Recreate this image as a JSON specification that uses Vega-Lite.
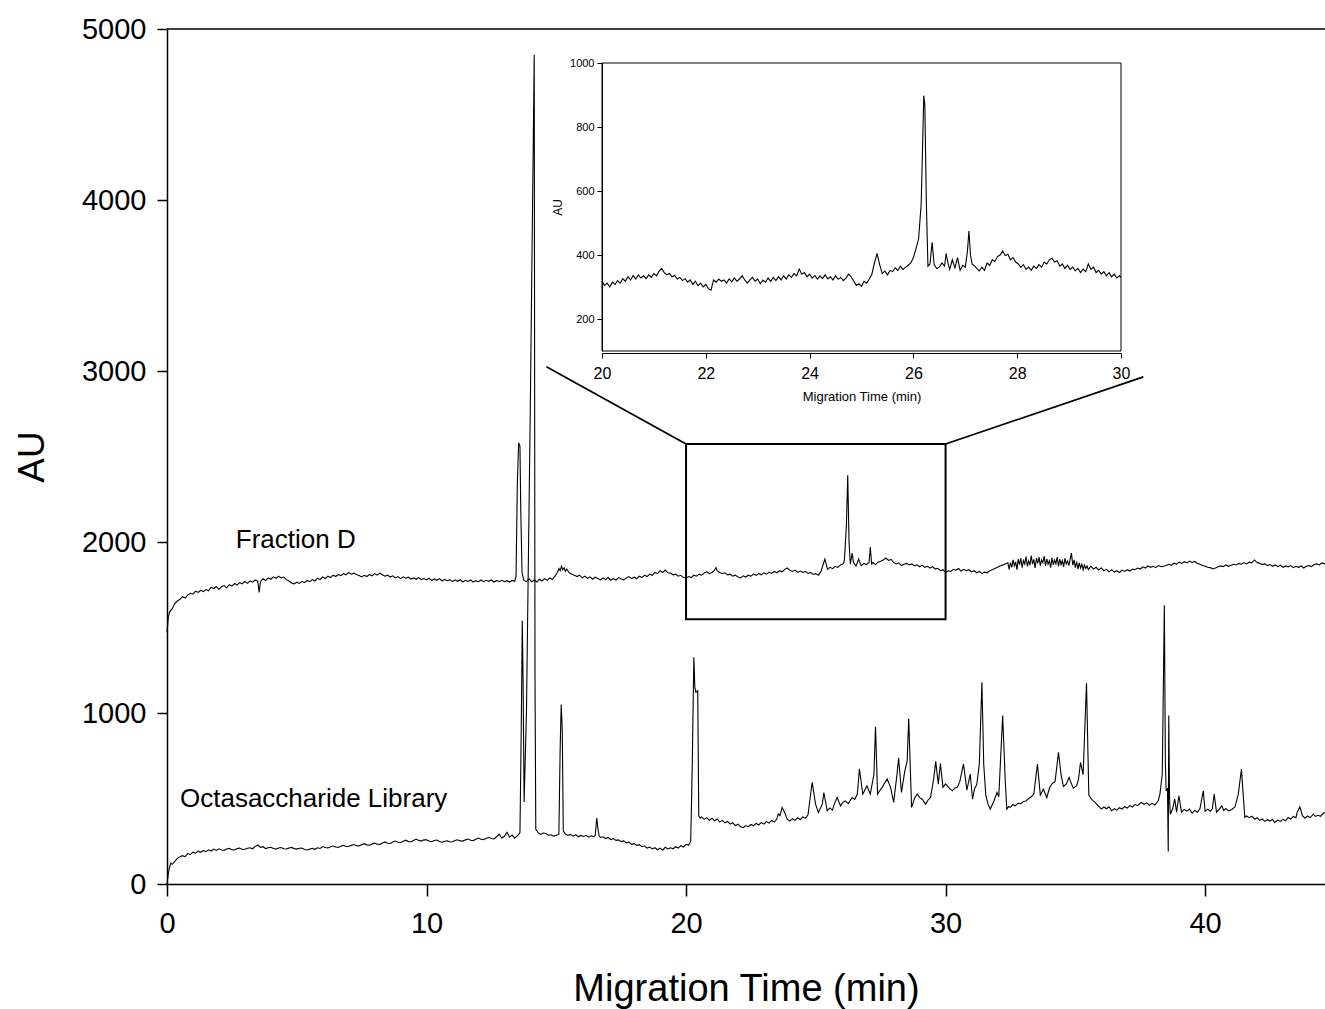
{
"$schema": "https://vega.github.io/schema/vega-lite/v6.json",
"width": 1158,
"height": 855,
"autosize": {"type": "none"},
"padding": {"left": 167, "top": 29, "right": 0, "bottom": 125},
"background": "white",
"config": {
  "view": {"stroke": null},
  "font": "Liberation Sans",
  "axis": {"grid": false, "domainColor": "black", "tickColor": "black", "labelColor": "black", "titleColor": "black", "labelFont": "Liberation Sans", "titleFont": "Liberation Sans", "titleFontWeight": "normal", "labelFlush": false, "labelOverlap": false}
},
"datasets": {
"fracD": [
{"t":0,"v":1470},{"t":0.05,"v":1560},{"t":0.1,"v":1590},{"t":0.2,"v":1610},{"t":0.3,"v":1640},{"t":0.4,"v":1655},{"t":0.5,"v":1665},{"t":0.6,"v":1680},{"t":0.7,"v":1672},{"t":0.8,"v":1690},{"t":0.9,"v":1700},{"t":1.0,"v":1695},{"t":1.1,"v":1712},{"t":1.2,"v":1705},{"t":1.3,"v":1718},{"t":1.4,"v":1710},{"t":1.5,"v":1722},{"t":1.6,"v":1715},{"t":1.7,"v":1735},{"t":1.8,"v":1728},{"t":1.9,"v":1740},{"t":2.0,"v":1722},{"t":2.1,"v":1738},{"t":2.2,"v":1745},{"t":2.3,"v":1732},{"t":2.4,"v":1750},{"t":2.5,"v":1742},{"t":2.6,"v":1758},{"t":2.7,"v":1748},{"t":2.8,"v":1762},{"t":2.9,"v":1755},{"t":3.0,"v":1770},{"t":3.1,"v":1758},{"t":3.2,"v":1772},{"t":3.3,"v":1765},{"t":3.4,"v":1778},{"t":3.5,"v":1770},{"t":3.55,"v":1705},{"t":3.6,"v":1768},{"t":3.7,"v":1785},{"t":3.8,"v":1775},{"t":3.9,"v":1790},{"t":4.0,"v":1782},{"t":4.1,"v":1796},{"t":4.2,"v":1788},{"t":4.3,"v":1800},{"t":4.4,"v":1790},{"t":4.5,"v":1795},{"t":4.6,"v":1780},{"t":4.7,"v":1772},{"t":4.8,"v":1760},{"t":4.9,"v":1755},{"t":5.0,"v":1765},{"t":5.1,"v":1758},{"t":5.2,"v":1770},{"t":5.3,"v":1762},{"t":5.4,"v":1775},{"t":5.5,"v":1768},{"t":5.6,"v":1780},{"t":5.7,"v":1772},{"t":5.8,"v":1788},{"t":5.9,"v":1780},{"t":6.0,"v":1795},{"t":6.1,"v":1786},{"t":6.2,"v":1800},{"t":6.3,"v":1792},{"t":6.4,"v":1806},{"t":6.5,"v":1798},{"t":6.6,"v":1810},{"t":6.7,"v":1803},{"t":6.8,"v":1815},{"t":6.9,"v":1808},{"t":7.0,"v":1822},{"t":7.1,"v":1812},{"t":7.2,"v":1818},{"t":7.3,"v":1810},{"t":7.4,"v":1804},{"t":7.5,"v":1796},{"t":7.6,"v":1805},{"t":7.7,"v":1798},{"t":7.8,"v":1810},{"t":7.9,"v":1802},{"t":8.0,"v":1815},{"t":8.1,"v":1806},{"t":8.2,"v":1818},{"t":8.3,"v":1808},{"t":8.4,"v":1800},{"t":8.5,"v":1806},{"t":8.6,"v":1795},{"t":8.7,"v":1802},{"t":8.8,"v":1790},{"t":8.9,"v":1798},{"t":9.0,"v":1786},{"t":9.1,"v":1796},{"t":9.2,"v":1788},{"t":9.3,"v":1794},{"t":9.4,"v":1783},{"t":9.5,"v":1790},{"t":9.6,"v":1782},{"t":9.7,"v":1792},{"t":9.8,"v":1780},{"t":9.9,"v":1786},{"t":10.0,"v":1778},{"t":10.1,"v":1788},{"t":10.2,"v":1775},{"t":10.3,"v":1784},{"t":10.4,"v":1776},{"t":10.5,"v":1786},{"t":10.6,"v":1772},{"t":10.7,"v":1782},{"t":10.8,"v":1774},{"t":10.9,"v":1780},{"t":11.0,"v":1768},{"t":11.1,"v":1778},{"t":11.2,"v":1770},{"t":11.3,"v":1779},{"t":11.4,"v":1766},{"t":11.5,"v":1776},{"t":11.6,"v":1769},{"t":11.7,"v":1778},{"t":11.8,"v":1765},{"t":11.9,"v":1774},{"t":12.0,"v":1768},{"t":12.1,"v":1778},{"t":12.2,"v":1768},{"t":12.3,"v":1776},{"t":12.4,"v":1770},{"t":12.5,"v":1778},{"t":12.6,"v":1766},{"t":12.7,"v":1775},{"t":12.8,"v":1768},{"t":12.9,"v":1776},{"t":13.0,"v":1768},{"t":13.1,"v":1774},{"t":13.2,"v":1766},{"t":13.3,"v":1775},{"t":13.4,"v":1770},{"t":13.45,"v":1800},{"t":13.5,"v":2350},{"t":13.55,"v":2580},{"t":13.6,"v":2560},{"t":13.63,"v":2200},{"t":13.68,"v":1820},{"t":13.75,"v":1775},{"t":13.85,"v":1768},{"t":13.95,"v":1785},{"t":14.05,"v":1768},{"t":14.15,"v":1778},{"t":14.25,"v":1766},{"t":14.35,"v":1782},{"t":14.45,"v":1772},{"t":14.55,"v":1786},{"t":14.65,"v":1776},{"t":14.75,"v":1790},{"t":14.85,"v":1782},{"t":14.95,"v":1800},{"t":15.05,"v":1825},{"t":15.1,"v":1845},{"t":15.15,"v":1832},{"t":15.2,"v":1858},{"t":15.25,"v":1838},{"t":15.3,"v":1850},{"t":15.35,"v":1828},{"t":15.4,"v":1842},{"t":15.5,"v":1820},{"t":15.6,"v":1812},{"t":15.7,"v":1805},{"t":15.8,"v":1798},{"t":15.9,"v":1806},{"t":16.0,"v":1790},{"t":16.1,"v":1800},{"t":16.2,"v":1788},{"t":16.3,"v":1796},{"t":16.4,"v":1782},{"t":16.5,"v":1794},{"t":16.6,"v":1786},{"t":16.7,"v":1778},{"t":16.8,"v":1790},{"t":16.9,"v":1780},{"t":17.0,"v":1792},{"t":17.1,"v":1776},{"t":17.2,"v":1786},{"t":17.3,"v":1778},{"t":17.4,"v":1792},{"t":17.5,"v":1784},{"t":17.6,"v":1778},{"t":17.7,"v":1790},{"t":17.8,"v":1798},{"t":17.9,"v":1786},{"t":18.0,"v":1794},{"t":18.1,"v":1785},{"t":18.2,"v":1800},{"t":18.3,"v":1792},{"t":18.4,"v":1806},{"t":18.5,"v":1798},{"t":18.6,"v":1812},{"t":18.7,"v":1805},{"t":18.8,"v":1822},{"t":18.9,"v":1815},{"t":19.0,"v":1832},{"t":19.1,"v":1822},{"t":19.2,"v":1836},{"t":19.3,"v":1820},{"t":19.4,"v":1818},{"t":19.5,"v":1808},{"t":19.6,"v":1812},{"t":19.7,"v":1800},{"t":19.8,"v":1805},{"t":19.9,"v":1792},{"t":20.0,"v":1790},{"t":20.1,"v":1798},{"t":20.2,"v":1792},{"t":20.3,"v":1806},{"t":20.4,"v":1800},{"t":20.5,"v":1812},{"t":20.6,"v":1806},{"t":20.7,"v":1818},{"t":20.8,"v":1826},{"t":20.9,"v":1815},{"t":21.0,"v":1822},{"t":21.1,"v":1835},{"t":21.15,"v":1850},{"t":21.2,"v":1832},{"t":21.3,"v":1822},{"t":21.4,"v":1815},{"t":21.5,"v":1820},{"t":21.6,"v":1808},{"t":21.7,"v":1812},{"t":21.8,"v":1800},{"t":21.9,"v":1806},{"t":22.0,"v":1795},{"t":22.1,"v":1790},{"t":22.2,"v":1802},{"t":22.3,"v":1795},{"t":22.4,"v":1806},{"t":22.5,"v":1800},{"t":22.6,"v":1812},{"t":22.7,"v":1805},{"t":22.8,"v":1816},{"t":22.9,"v":1808},{"t":23.0,"v":1820},{"t":23.1,"v":1812},{"t":23.2,"v":1824},{"t":23.3,"v":1816},{"t":23.4,"v":1828},{"t":23.5,"v":1820},{"t":23.6,"v":1832},{"t":23.7,"v":1826},{"t":23.8,"v":1840},{"t":23.9,"v":1848},{"t":24.0,"v":1834},{"t":24.1,"v":1828},{"t":24.2,"v":1836},{"t":24.3,"v":1822},{"t":24.4,"v":1830},{"t":24.5,"v":1822},{"t":24.6,"v":1828},{"t":24.7,"v":1816},{"t":24.8,"v":1822},{"t":24.9,"v":1810},{"t":25.0,"v":1815},{"t":25.1,"v":1806},{"t":25.2,"v":1828},{"t":25.35,"v":1900},{"t":25.45,"v":1840},{"t":25.55,"v":1852},{"t":25.65,"v":1844},{"t":25.75,"v":1858},{"t":25.85,"v":1852},{"t":25.95,"v":1866},{"t":26.05,"v":1872},{"t":26.1,"v":1890},{"t":26.18,"v":2100},{"t":26.23,"v":2390},{"t":26.28,"v":2000},{"t":26.33,"v":1870},{"t":26.4,"v":1935},{"t":26.45,"v":1880},{"t":26.55,"v":1860},{"t":26.65,"v":1900},{"t":26.75,"v":1862},{"t":26.85,"v":1875},{"t":26.95,"v":1868},{"t":27.05,"v":1880},{"t":27.1,"v":1970},{"t":27.15,"v":1872},{"t":27.2,"v":1880},{"t":27.3,"v":1868},{"t":27.4,"v":1882},{"t":27.5,"v":1888},{"t":27.6,"v":1895},{"t":27.7,"v":1906},{"t":27.8,"v":1892},{"t":27.9,"v":1898},{"t":28.0,"v":1880},{"t":28.1,"v":1872},{"t":28.2,"v":1878},{"t":28.3,"v":1862},{"t":28.4,"v":1870},{"t":28.5,"v":1875},{"t":28.6,"v":1866},{"t":28.7,"v":1872},{"t":28.8,"v":1860},{"t":28.9,"v":1866},{"t":29.0,"v":1855},{"t":29.1,"v":1865},{"t":29.2,"v":1852},{"t":29.3,"v":1858},{"t":29.4,"v":1848},{"t":29.5,"v":1856},{"t":29.6,"v":1842},{"t":29.7,"v":1846},{"t":29.8,"v":1832},{"t":29.9,"v":1838},{"t":30.0,"v":1822},{"t":30.1,"v":1832},{"t":30.2,"v":1828},{"t":30.3,"v":1840},{"t":30.4,"v":1835},{"t":30.5,"v":1845},{"t":30.6,"v":1830},{"t":30.7,"v":1840},{"t":30.8,"v":1832},{"t":30.9,"v":1838},{"t":31.0,"v":1826},{"t":31.1,"v":1832},{"t":31.2,"v":1820},{"t":31.3,"v":1828},{"t":31.4,"v":1815},{"t":31.5,"v":1824},{"t":31.6,"v":1820},{"t":31.7,"v":1832},{"t":31.8,"v":1838},{"t":31.9,"v":1845},{"t":32.0,"v":1852},{"t":32.1,"v":1860},{"t":32.2,"v":1866},{"t":32.3,"v":1872},{"t":32.4,"v":1878},{"t":32.45,"v":1840},{"t":32.5,"v":1880},{"t":32.55,"v":1852},{"t":32.6,"v":1895},{"t":32.65,"v":1860},{"t":32.7,"v":1884},{"t":32.75,"v":1838},{"t":32.8,"v":1900},{"t":32.85,"v":1868},{"t":32.9,"v":1905},{"t":32.95,"v":1850},{"t":33.0,"v":1892},{"t":33.05,"v":1872},{"t":33.1,"v":1915},{"t":33.15,"v":1858},{"t":33.2,"v":1890},{"t":33.25,"v":1865},{"t":33.3,"v":1920},{"t":33.35,"v":1870},{"t":33.4,"v":1898},{"t":33.45,"v":1848},{"t":33.5,"v":1905},{"t":33.55,"v":1875},{"t":33.6,"v":1912},{"t":33.65,"v":1862},{"t":33.7,"v":1895},{"t":33.75,"v":1880},{"t":33.8,"v":1918},{"t":33.85,"v":1860},{"t":33.9,"v":1902},{"t":33.95,"v":1870},{"t":34.0,"v":1890},{"t":34.05,"v":1850},{"t":34.1,"v":1908},{"t":34.15,"v":1866},{"t":34.2,"v":1895},{"t":34.25,"v":1872},{"t":34.3,"v":1912},{"t":34.35,"v":1858},{"t":34.4,"v":1900},{"t":34.45,"v":1868},{"t":34.5,"v":1892},{"t":34.55,"v":1855},{"t":34.6,"v":1905},{"t":34.65,"v":1872},{"t":34.7,"v":1890},{"t":34.75,"v":1862},{"t":34.8,"v":1898},{"t":34.85,"v":1935},{"t":34.9,"v":1865},{"t":34.95,"v":1895},{"t":35.0,"v":1850},{"t":35.05,"v":1885},{"t":35.1,"v":1842},{"t":35.15,"v":1878},{"t":35.2,"v":1848},{"t":35.25,"v":1870},{"t":35.3,"v":1838},{"t":35.35,"v":1865},{"t":35.4,"v":1845},{"t":35.45,"v":1860},{"t":35.5,"v":1838},{"t":35.6,"v":1858},{"t":35.7,"v":1842},{"t":35.8,"v":1852},{"t":35.9,"v":1836},{"t":36.0,"v":1848},{"t":36.1,"v":1832},{"t":36.2,"v":1840},{"t":36.3,"v":1826},{"t":36.4,"v":1838},{"t":36.5,"v":1824},{"t":36.6,"v":1832},{"t":36.7,"v":1822},{"t":36.8,"v":1836},{"t":36.9,"v":1828},{"t":37.0,"v":1838},{"t":37.1,"v":1830},{"t":37.2,"v":1842},{"t":37.3,"v":1838},{"t":37.4,"v":1848},{"t":37.5,"v":1842},{"t":37.6,"v":1855},{"t":37.7,"v":1848},{"t":37.8,"v":1860},{"t":37.9,"v":1852},{"t":38.0,"v":1858},{"t":38.1,"v":1850},{"t":38.2,"v":1862},{"t":38.3,"v":1855},{"t":38.4,"v":1858},{"t":38.5,"v":1862},{"t":38.6,"v":1870},{"t":38.7,"v":1865},{"t":38.8,"v":1876},{"t":38.9,"v":1870},{"t":39.0,"v":1882},{"t":39.1,"v":1875},{"t":39.2,"v":1885},{"t":39.3,"v":1878},{"t":39.4,"v":1888},{"t":39.5,"v":1880},{"t":39.6,"v":1886},{"t":39.7,"v":1874},{"t":39.8,"v":1870},{"t":39.9,"v":1862},{"t":40.0,"v":1858},{"t":40.1,"v":1852},{"t":40.2,"v":1850},{"t":40.3,"v":1842},{"t":40.4,"v":1848},{"t":40.5,"v":1855},{"t":40.6,"v":1860},{"t":40.7,"v":1856},{"t":40.8,"v":1866},{"t":40.9,"v":1858},{"t":41.0,"v":1864},{"t":41.1,"v":1870},{"t":41.2,"v":1866},{"t":41.3,"v":1875},{"t":41.4,"v":1870},{"t":41.5,"v":1880},{"t":41.6,"v":1872},{"t":41.7,"v":1882},{"t":41.8,"v":1878},{"t":41.9,"v":1895},{"t":42.0,"v":1880},{"t":42.1,"v":1875},{"t":42.2,"v":1868},{"t":42.3,"v":1872},{"t":42.4,"v":1862},{"t":42.5,"v":1868},{"t":42.6,"v":1858},{"t":42.7,"v":1866},{"t":42.8,"v":1856},{"t":42.9,"v":1864},{"t":43.0,"v":1852},{"t":43.1,"v":1860},{"t":43.2,"v":1855},{"t":43.3,"v":1862},{"t":43.4,"v":1850},{"t":43.5,"v":1858},{"t":43.6,"v":1852},{"t":43.7,"v":1860},{"t":43.8,"v":1848},{"t":43.9,"v":1858},{"t":44.0,"v":1862},{"t":44.1,"v":1856},{"t":44.2,"v":1868},{"t":44.3,"v":1872},{"t":44.4,"v":1866},{"t":44.5,"v":1878},{"t":44.62,"v":1872}
],
"octa": [
{"t":0,"v":0},{"t":0.05,"v":60},{"t":0.1,"v":100},{"t":0.15,"v":122},{"t":0.2,"v":115},{"t":0.3,"v":132},{"t":0.4,"v":150},{"t":0.5,"v":160},{"t":0.6,"v":166},{"t":0.7,"v":160},{"t":0.8,"v":178},{"t":0.9,"v":172},{"t":1.0,"v":186},{"t":1.1,"v":180},{"t":1.2,"v":192},{"t":1.3,"v":185},{"t":1.4,"v":196},{"t":1.5,"v":189},{"t":1.6,"v":200},{"t":1.7,"v":193},{"t":1.8,"v":204},{"t":1.9,"v":196},{"t":2.0,"v":206},{"t":2.1,"v":199},{"t":2.2,"v":197},{"t":2.3,"v":205},{"t":2.4,"v":208},{"t":2.5,"v":201},{"t":2.6,"v":199},{"t":2.7,"v":207},{"t":2.8,"v":210},{"t":2.9,"v":202},{"t":3.0,"v":203},{"t":3.1,"v":209},{"t":3.2,"v":212},{"t":3.3,"v":206},{"t":3.4,"v":220},{"t":3.5,"v":228},{"t":3.6,"v":214},{"t":3.7,"v":218},{"t":3.8,"v":207},{"t":3.9,"v":212},{"t":4.0,"v":215},{"t":4.1,"v":208},{"t":4.2,"v":204},{"t":4.3,"v":211},{"t":4.4,"v":213},{"t":4.5,"v":206},{"t":4.6,"v":205},{"t":4.7,"v":210},{"t":4.8,"v":214},{"t":4.9,"v":207},{"t":5.0,"v":204},{"t":5.1,"v":209},{"t":5.2,"v":210},{"t":5.3,"v":202},{"t":5.4,"v":199},{"t":5.5,"v":205},{"t":5.6,"v":208},{"t":5.7,"v":203},{"t":5.8,"v":212},{"t":5.9,"v":208},{"t":6.0,"v":219},{"t":6.1,"v":213},{"t":6.2,"v":211},{"t":6.3,"v":218},{"t":6.4,"v":222},{"t":6.5,"v":216},{"t":6.6,"v":214},{"t":6.7,"v":221},{"t":6.8,"v":226},{"t":6.9,"v":219},{"t":7.0,"v":219},{"t":7.1,"v":226},{"t":7.2,"v":231},{"t":7.3,"v":224},{"t":7.4,"v":223},{"t":7.5,"v":230},{"t":7.6,"v":236},{"t":7.7,"v":229},{"t":7.8,"v":227},{"t":7.9,"v":234},{"t":8.0,"v":239},{"t":8.1,"v":233},{"t":8.2,"v":231},{"t":8.3,"v":240},{"t":8.4,"v":246},{"t":8.5,"v":238},{"t":8.6,"v":237},{"t":8.7,"v":245},{"t":8.8,"v":251},{"t":8.9,"v":244},{"t":9.0,"v":241},{"t":9.1,"v":250},{"t":9.2,"v":256},{"t":9.3,"v":248},{"t":9.4,"v":247},{"t":9.5,"v":255},{"t":9.6,"v":263},{"t":9.7,"v":255},{"t":9.8,"v":251},{"t":9.9,"v":259},{"t":10.0,"v":258},{"t":10.1,"v":252},{"t":10.2,"v":247},{"t":10.3,"v":254},{"t":10.4,"v":257},{"t":10.5,"v":249},{"t":10.6,"v":244},{"t":10.7,"v":250},{"t":10.8,"v":253},{"t":10.9,"v":246},{"t":11.0,"v":247},{"t":11.1,"v":255},{"t":11.2,"v":259},{"t":11.3,"v":252},{"t":11.4,"v":251},{"t":11.5,"v":258},{"t":11.6,"v":263},{"t":11.7,"v":256},{"t":11.8,"v":254},{"t":11.9,"v":262},{"t":12.0,"v":269},{"t":12.1,"v":262},{"t":12.2,"v":259},{"t":12.3,"v":268},{"t":12.4,"v":273},{"t":12.5,"v":266},{"t":12.6,"v":264},{"t":12.7,"v":276},{"t":12.8,"v":292},{"t":12.9,"v":268},{"t":13.0,"v":279},{"t":13.1,"v":302},{"t":13.2,"v":274},{"t":13.3,"v":286},{"t":13.4,"v":268},{"t":13.5,"v":282},{"t":13.6,"v":300},{"t":13.65,"v":900},{"t":13.69,"v":1540},{"t":13.72,"v":1200},{"t":13.76,"v":480},{"t":13.85,"v":1000},{"t":14.0,"v":2800},{"t":14.15,"v":4850},{"t":14.18,"v":1200},{"t":14.21,"v":320},{"t":14.3,"v":300},{"t":14.4,"v":290},{"t":14.5,"v":298},{"t":14.6,"v":295},{"t":14.7,"v":285},{"t":14.8,"v":288},{"t":14.9,"v":280},{"t":15.0,"v":285},{"t":15.1,"v":290},{"t":15.15,"v":800},{"t":15.19,"v":1050},{"t":15.23,"v":900},{"t":15.27,"v":310},{"t":15.35,"v":292},{"t":15.45,"v":284},{"t":15.55,"v":290},{"t":15.65,"v":280},{"t":15.75,"v":288},{"t":15.85,"v":276},{"t":15.95,"v":284},{"t":16.05,"v":278},{"t":16.15,"v":285},{"t":16.25,"v":274},{"t":16.35,"v":282},{"t":16.45,"v":276},{"t":16.5,"v":285},{"t":16.56,"v":385},{"t":16.6,"v":330},{"t":16.65,"v":280},{"t":16.7,"v":272},{"t":16.8,"v":276},{"t":16.9,"v":266},{"t":17.0,"v":272},{"t":17.1,"v":260},{"t":17.2,"v":266},{"t":17.3,"v":255},{"t":17.4,"v":258},{"t":17.5,"v":248},{"t":17.6,"v":252},{"t":17.7,"v":240},{"t":17.8,"v":245},{"t":17.9,"v":232},{"t":18.0,"v":236},{"t":18.1,"v":226},{"t":18.2,"v":230},{"t":18.3,"v":218},{"t":18.4,"v":222},{"t":18.5,"v":210},{"t":18.6,"v":216},{"t":18.7,"v":205},{"t":18.8,"v":212},{"t":18.9,"v":200},{"t":19.0,"v":210},{"t":19.1,"v":198},{"t":19.2,"v":215},{"t":19.3,"v":205},{"t":19.4,"v":212},{"t":19.5,"v":206},{"t":19.6,"v":218},{"t":19.7,"v":210},{"t":19.8,"v":224},{"t":19.9,"v":216},{"t":20.0,"v":232},{"t":20.1,"v":226},{"t":20.18,"v":252},{"t":20.24,"v":700},{"t":20.3,"v":1326},{"t":20.34,"v":1150},{"t":20.38,"v":1121},{"t":20.45,"v":1130},{"t":20.49,"v":400},{"t":20.55,"v":385},{"t":20.6,"v":392},{"t":20.7,"v":378},{"t":20.8,"v":388},{"t":20.9,"v":372},{"t":21.0,"v":385},{"t":21.1,"v":370},{"t":21.2,"v":380},{"t":21.3,"v":362},{"t":21.4,"v":372},{"t":21.5,"v":358},{"t":21.6,"v":366},{"t":21.7,"v":350},{"t":21.8,"v":358},{"t":21.9,"v":342},{"t":22.0,"v":350},{"t":22.1,"v":335},{"t":22.2,"v":330},{"t":22.3,"v":342},{"t":22.4,"v":335},{"t":22.5,"v":348},{"t":22.6,"v":340},{"t":22.7,"v":355},{"t":22.8,"v":345},{"t":22.9,"v":360},{"t":23.0,"v":350},{"t":23.1,"v":365},{"t":23.2,"v":356},{"t":23.3,"v":372},{"t":23.4,"v":362},{"t":23.5,"v":380},{"t":23.55,"v":410},{"t":23.62,"v":400},{"t":23.7,"v":447},{"t":23.8,"v":418},{"t":23.9,"v":378},{"t":24.0,"v":368},{"t":24.1,"v":382},{"t":24.2,"v":372},{"t":24.3,"v":388},{"t":24.4,"v":376},{"t":24.5,"v":392},{"t":24.6,"v":385},{"t":24.7,"v":405},{"t":24.8,"v":526},{"t":24.86,"v":594},{"t":24.99,"v":467},{"t":25.1,"v":418},{"t":25.25,"v":467},{"t":25.31,"v":535},{"t":25.44,"v":428},{"t":25.54,"v":445},{"t":25.64,"v":432},{"t":25.72,"v":470},{"t":25.82,"v":506},{"t":25.95,"v":457},{"t":26.05,"v":478},{"t":26.14,"v":486},{"t":26.25,"v":470},{"t":26.4,"v":506},{"t":26.5,"v":495},{"t":26.6,"v":526},{"t":26.68,"v":673},{"t":26.81,"v":526},{"t":26.97,"v":574},{"t":27.1,"v":526},{"t":27.24,"v":643},{"t":27.3,"v":920},{"t":27.38,"v":526},{"t":27.47,"v":548},{"t":27.56,"v":565},{"t":27.65,"v":590},{"t":27.75,"v":614},{"t":27.88,"v":565},{"t":28.0,"v":477},{"t":28.13,"v":643},{"t":28.19,"v":738},{"t":28.3,"v":535},{"t":28.43,"v":662},{"t":28.52,"v":721},{"t":28.58,"v":967},{"t":28.69,"v":447},{"t":28.8,"v":500},{"t":28.91,"v":526},{"t":29.0,"v":505},{"t":29.1,"v":496},{"t":29.23,"v":467},{"t":29.32,"v":490},{"t":29.42,"v":506},{"t":29.55,"v":623},{"t":29.62,"v":717},{"t":29.72,"v":584},{"t":29.8,"v":705},{"t":29.9,"v":565},{"t":30.0,"v":585},{"t":30.07,"v":574},{"t":30.17,"v":556},{"t":30.26,"v":545},{"t":30.35,"v":560},{"t":30.45,"v":565},{"t":30.55,"v":600},{"t":30.69,"v":702},{"t":30.82,"v":549},{"t":30.95,"v":643},{"t":31.04,"v":496},{"t":31.12,"v":560},{"t":31.2,"v":580},{"t":31.3,"v":700},{"t":31.4,"v":1180},{"t":31.47,"v":700},{"t":31.55,"v":520},{"t":31.63,"v":470},{"t":31.72,"v":438},{"t":31.85,"v":480},{"t":31.98,"v":535},{"t":32.05,"v":510},{"t":32.2,"v":985},{"t":32.3,"v":600},{"t":32.36,"v":438},{"t":32.43,"v":452},{"t":32.5,"v":450},{"t":32.6,"v":465},{"t":32.68,"v":457},{"t":32.8,"v":472},{"t":32.9,"v":470},{"t":33.0,"v":482},{"t":33.1,"v":485},{"t":33.2,"v":500},{"t":33.3,"v":510},{"t":33.4,"v":526},{"t":33.54,"v":702},{"t":33.65,"v":520},{"t":33.77,"v":555},{"t":33.9,"v":505},{"t":34.0,"v":560},{"t":34.09,"v":584},{"t":34.22,"v":600},{"t":34.35,"v":770},{"t":34.45,"v":640},{"t":34.54,"v":570},{"t":34.65,"v":585},{"t":34.76,"v":623},{"t":34.84,"v":590},{"t":34.92,"v":560},{"t":35.05,"v":575},{"t":35.12,"v":610},{"t":35.2,"v":711},{"t":35.3,"v":640},{"t":35.43,"v":1174},{"t":35.52,"v":520},{"t":35.6,"v":500},{"t":35.7,"v":485},{"t":35.76,"v":477},{"t":35.85,"v":462},{"t":35.9,"v":455},{"t":36.0,"v":438},{"t":36.1,"v":450},{"t":36.2,"v":440},{"t":36.3,"v":452},{"t":36.4,"v":428},{"t":36.5,"v":440},{"t":36.6,"v":432},{"t":36.7,"v":446},{"t":36.8,"v":438},{"t":36.9,"v":452},{"t":37.0,"v":444},{"t":37.1,"v":458},{"t":37.2,"v":450},{"t":37.3,"v":466},{"t":37.4,"v":458},{"t":37.5,"v":472},{"t":37.55,"v":477},{"t":37.65,"v":466},{"t":37.75,"v":474},{"t":37.85,"v":460},{"t":37.95,"v":472},{"t":38.07,"v":462},{"t":38.15,"v":478},{"t":38.2,"v":490},{"t":38.26,"v":526},{"t":38.35,"v":643},{"t":38.43,"v":1630},{"t":38.47,"v":700},{"t":38.5,"v":545},{"t":38.55,"v":560},{"t":38.58,"v":190},{"t":38.6,"v":985},{"t":38.63,"v":500},{"t":38.66,"v":408},{"t":38.75,"v":440},{"t":38.83,"v":496},{"t":38.9,"v":420},{"t":38.99,"v":516},{"t":39.09,"v":420},{"t":39.2,"v":436},{"t":39.3,"v":426},{"t":39.4,"v":438},{"t":39.5,"v":415},{"t":39.6,"v":430},{"t":39.7,"v":420},{"t":39.8,"v":440},{"t":39.93,"v":545},{"t":40.0,"v":425},{"t":40.1,"v":438},{"t":40.2,"v":426},{"t":40.28,"v":440},{"t":40.35,"v":526},{"t":40.44,"v":420},{"t":40.55,"v":438},{"t":40.64,"v":457},{"t":40.72,"v":430},{"t":40.8,"v":442},{"t":40.9,"v":428},{"t":41.03,"v":436},{"t":41.15,"v":450},{"t":41.28,"v":526},{"t":41.4,"v":672},{"t":41.53,"v":389},{"t":41.6,"v":398},{"t":41.7,"v":388},{"t":41.8,"v":396},{"t":41.92,"v":379},{"t":42.0,"v":388},{"t":42.1,"v":372},{"t":42.2,"v":380},{"t":42.3,"v":366},{"t":42.4,"v":376},{"t":42.5,"v":368},{"t":42.6,"v":378},{"t":42.68,"v":360},{"t":42.8,"v":374},{"t":42.9,"v":366},{"t":43.0,"v":378},{"t":43.1,"v":370},{"t":43.2,"v":389},{"t":43.3,"v":380},{"t":43.4,"v":395},{"t":43.5,"v":388},{"t":43.55,"v":420},{"t":43.65,"v":451},{"t":43.75,"v":400},{"t":43.85,"v":385},{"t":43.95,"v":398},{"t":44.05,"v":388},{"t":44.17,"v":408},{"t":44.25,"v":395},{"t":44.35,"v":402},{"t":44.45,"v":396},{"t":44.54,"v":412},{"t":44.62,"v":418}
],
"inset": [
{"t":20.0,"v":318},{"t":20.05,"v":305},{"t":20.1,"v":312},{"t":20.15,"v":300},{"t":20.2,"v":315},{"t":20.25,"v":308},{"t":20.3,"v":320},{"t":20.35,"v":312},{"t":20.4,"v":326},{"t":20.45,"v":318},{"t":20.5,"v":332},{"t":20.55,"v":322},{"t":20.6,"v":336},{"t":20.65,"v":325},{"t":20.7,"v":338},{"t":20.75,"v":328},{"t":20.8,"v":335},{"t":20.85,"v":326},{"t":20.9,"v":338},{"t":20.95,"v":330},{"t":21.0,"v":342},{"t":21.05,"v":335},{"t":21.1,"v":350},{"t":21.15,"v":358},{"t":21.2,"v":345},{"t":21.25,"v":338},{"t":21.3,"v":342},{"t":21.35,"v":332},{"t":21.4,"v":336},{"t":21.45,"v":325},{"t":21.5,"v":330},{"t":21.55,"v":320},{"t":21.6,"v":326},{"t":21.65,"v":315},{"t":21.7,"v":322},{"t":21.75,"v":308},{"t":21.8,"v":318},{"t":21.85,"v":304},{"t":21.9,"v":312},{"t":21.95,"v":300},{"t":22.0,"v":308},{"t":22.05,"v":295},{"t":22.1,"v":290},{"t":22.15,"v":322},{"t":22.2,"v":315},{"t":22.25,"v":325},{"t":22.3,"v":318},{"t":22.35,"v":322},{"t":22.4,"v":312},{"t":22.45,"v":325},{"t":22.5,"v":316},{"t":22.55,"v":328},{"t":22.6,"v":318},{"t":22.65,"v":325},{"t":22.7,"v":335},{"t":22.75,"v":322},{"t":22.8,"v":312},{"t":22.85,"v":322},{"t":22.9,"v":330},{"t":22.95,"v":318},{"t":23.0,"v":325},{"t":23.05,"v":310},{"t":23.1,"v":322},{"t":23.15,"v":315},{"t":23.2,"v":328},{"t":23.25,"v":318},{"t":23.3,"v":330},{"t":23.35,"v":320},{"t":23.4,"v":332},{"t":23.45,"v":322},{"t":23.5,"v":335},{"t":23.55,"v":325},{"t":23.6,"v":338},{"t":23.65,"v":330},{"t":23.7,"v":342},{"t":23.75,"v":335},{"t":23.8,"v":356},{"t":23.85,"v":340},{"t":23.9,"v":345},{"t":23.95,"v":332},{"t":24.0,"v":340},{"t":24.05,"v":328},{"t":24.1,"v":336},{"t":24.15,"v":325},{"t":24.2,"v":335},{"t":24.25,"v":326},{"t":24.3,"v":338},{"t":24.35,"v":325},{"t":24.4,"v":332},{"t":24.45,"v":322},{"t":24.5,"v":335},{"t":24.55,"v":324},{"t":24.6,"v":330},{"t":24.65,"v":320},{"t":24.7,"v":328},{"t":24.75,"v":340},{"t":24.8,"v":332},{"t":24.85,"v":318},{"t":24.9,"v":305},{"t":24.95,"v":310},{"t":25.0,"v":302},{"t":25.05,"v":318},{"t":25.1,"v":312},{"t":25.15,"v":325},{"t":25.2,"v":340},{"t":25.25,"v":375},{"t":25.3,"v":405},{"t":25.35,"v":370},{"t":25.4,"v":342},{"t":25.45,"v":350},{"t":25.5,"v":338},{"t":25.55,"v":352},{"t":25.6,"v":348},{"t":25.65,"v":360},{"t":25.7,"v":352},{"t":25.75,"v":365},{"t":25.8,"v":355},{"t":25.85,"v":362},{"t":25.9,"v":368},{"t":25.95,"v":375},{"t":26.0,"v":392},{"t":26.05,"v":420},{"t":26.1,"v":450},{"t":26.15,"v":560},{"t":26.18,"v":760},{"t":26.2,"v":898},{"t":26.22,"v":870},{"t":26.25,"v":560},{"t":26.28,"v":365},{"t":26.32,"v":372},{"t":26.36,"v":440},{"t":26.4,"v":370},{"t":26.45,"v":358},{"t":26.5,"v":362},{"t":26.55,"v":375},{"t":26.6,"v":365},{"t":26.63,"v":405},{"t":26.67,"v":372},{"t":26.7,"v":355},{"t":26.75,"v":385},{"t":26.8,"v":360},{"t":26.85,"v":392},{"t":26.9,"v":352},{"t":26.95,"v":368},{"t":27.0,"v":362},{"t":27.04,"v":410},{"t":27.07,"v":475},{"t":27.1,"v":400},{"t":27.13,"v":372},{"t":27.18,"v":365},{"t":27.22,"v":358},{"t":27.27,"v":350},{"t":27.32,"v":362},{"t":27.37,"v":352},{"t":27.42,"v":375},{"t":27.47,"v":368},{"t":27.52,"v":385},{"t":27.57,"v":380},{"t":27.62,"v":395},{"t":27.67,"v":400},{"t":27.72,"v":412},{"t":27.77,"v":398},{"t":27.82,"v":402},{"t":27.87,"v":385},{"t":27.92,"v":392},{"t":27.97,"v":378},{"t":28.02,"v":372},{"t":28.07,"v":362},{"t":28.12,"v":370},{"t":28.17,"v":355},{"t":28.22,"v":362},{"t":28.27,"v":352},{"t":28.32,"v":365},{"t":28.37,"v":358},{"t":28.42,"v":370},{"t":28.47,"v":362},{"t":28.52,"v":378},{"t":28.57,"v":372},{"t":28.62,"v":385},{"t":28.67,"v":390},{"t":28.72,"v":378},{"t":28.77,"v":382},{"t":28.82,"v":365},{"t":28.87,"v":372},{"t":28.92,"v":358},{"t":28.97,"v":368},{"t":29.02,"v":355},{"t":29.07,"v":362},{"t":29.12,"v":350},{"t":29.17,"v":358},{"t":29.22,"v":345},{"t":29.27,"v":356},{"t":29.32,"v":348},{"t":29.37,"v":372},{"t":29.42,"v":355},{"t":29.47,"v":362},{"t":29.52,"v":345},{"t":29.57,"v":352},{"t":29.62,"v":340},{"t":29.67,"v":348},{"t":29.72,"v":335},{"t":29.77,"v":345},{"t":29.82,"v":332},{"t":29.87,"v":340},{"t":29.92,"v":328},{"t":29.97,"v":335},{"t":30.0,"v":330}
]
},
"layer": [
  {
    "layer": [
      {
        "data": {"name": "fracD"},
        "mark": {"type": "line", "color": "black", "strokeWidth": 1.1},
        "encoding": {
          "x": {"field": "t", "type": "quantitative", "scale": {"domain": [0, 44.62], "nice": false, "zero": false},
                "axis": {"title": "Migration Time (min)", "orient": "bottom", "values": [0, 10, 20, 30, 40], "format": "d", "tickSize": 12, "tickWidth": 1.5, "domainWidth": 1.5, "labelFontSize": 29, "labelPadding": 13, "titleFontSize": 38, "titlePadding": 32}},
          "y": {"field": "v", "type": "quantitative", "scale": {"domain": [0, 5000], "nice": false},
                "axis": {"title": "AU", "orient": "left", "values": [0, 1000, 2000, 3000, 4000, 5000], "format": "d", "tickSize": 10, "tickWidth": 1.5, "domainWidth": 1.5, "labelFontSize": 29, "labelPadding": 11, "titleFontSize": 37, "titlePadding": 30}}
        }
      },
      {
        "data": {"name": "octa"},
        "mark": {"type": "line", "color": "black", "strokeWidth": 1.1},
        "encoding": {
          "x": {"field": "t", "type": "quantitative"},
          "y": {"field": "v", "type": "quantitative"}
        }
      },
      {
        "data": {"values": [{"y": 5000}]},
        "mark": {"type": "rule", "color": "black", "strokeWidth": 1.5},
        "encoding": {"y": {"field": "y", "type": "quantitative"}}
      },
      {
        "data": {"values": [{"x": 20, "x2": 30, "y": 1548, "y2": 2573}]},
        "mark": {"type": "rect", "fillOpacity": 0, "stroke": "black", "strokeWidth": 2},
        "encoding": {
          "x": {"field": "x", "type": "quantitative"}, "x2": {"field": "x2"},
          "y": {"field": "y", "type": "quantitative"}, "y2": {"field": "y2"}
        }
      },
      {
        "data": {"values": [{"x": 20, "y": 2573, "x2": 14.62, "y2": 3025}, {"x": 30, "y": 2573, "x2": 37.62, "y2": 2966}]},
        "mark": {"type": "rule", "color": "black", "strokeWidth": 1.8},
        "encoding": {
          "x": {"field": "x", "type": "quantitative"}, "x2": {"field": "x2"},
          "y": {"field": "y", "type": "quantitative"}, "y2": {"field": "y2"}
        }
      },
      {
        "data": {"values": [{"t": 2.65, "v": 2011, "label": "Fraction D"}, {"t": 0.5, "v": 498, "label": "Octasaccharide Library"}]},
        "mark": {"type": "text", "align": "left", "baseline": "middle", "fontSize": 26, "font": "Liberation Sans", "color": "black"},
        "encoding": {
          "x": {"field": "t", "type": "quantitative"},
          "y": {"field": "v", "type": "quantitative"},
          "text": {"field": "label"}
        }
      }
    ]
  },
  {
    "layer": [
      {
        "data": {"name": "inset"},
        "mark": {"type": "line", "color": "black", "strokeWidth": 1.1},
        "encoding": {
          "x": {"field": "t", "type": "quantitative", "scale": {"domain": [20, 30], "range": [435, 954], "nice": false, "zero": false},
                "axis": {"title": "Migration Time (min)", "orient": "bottom", "offset": -531, "values": [20, 22, 24, 26, 28, 30], "format": "d", "tickSize": 5, "labelFontSize": 16, "labelPadding": 7, "titleFontSize": 13, "titlePadding": 9, "domainWidth": 1}},
          "y": {"field": "v", "type": "quantitative", "scale": {"domain": [100, 1000], "range": [322, 34], "nice": false, "zero": false},
                "axis": {"title": "AU", "orient": "left", "offset": -435, "values": [200, 400, 600, 800, 1000], "format": "d", "tickSize": 5, "labelFontSize": 11, "labelPadding": 3, "titleFontSize": 12, "titlePadding": 5, "domainWidth": 1}}
        }
      },
      {
        "data": {"values": [{"x": 20, "x2": 30, "y": 100, "y2": 1000}]},
        "mark": {"type": "rect", "fillOpacity": 0, "stroke": "black", "strokeWidth": 1},
        "encoding": {
          "x": {"field": "x", "type": "quantitative", "scale": {"domain": [20, 30], "range": [435, 954], "nice": false, "zero": false}}, "x2": {"field": "x2"},
          "y": {"field": "y", "type": "quantitative", "scale": {"domain": [100, 1000], "range": [322, 34], "nice": false, "zero": false}}, "y2": {"field": "y2"}
        }
      }
    ]
  }
],
"resolve": {"scale": {"x": "independent", "y": "independent"}, "axis": {"x": "independent", "y": "independent"}}
}
